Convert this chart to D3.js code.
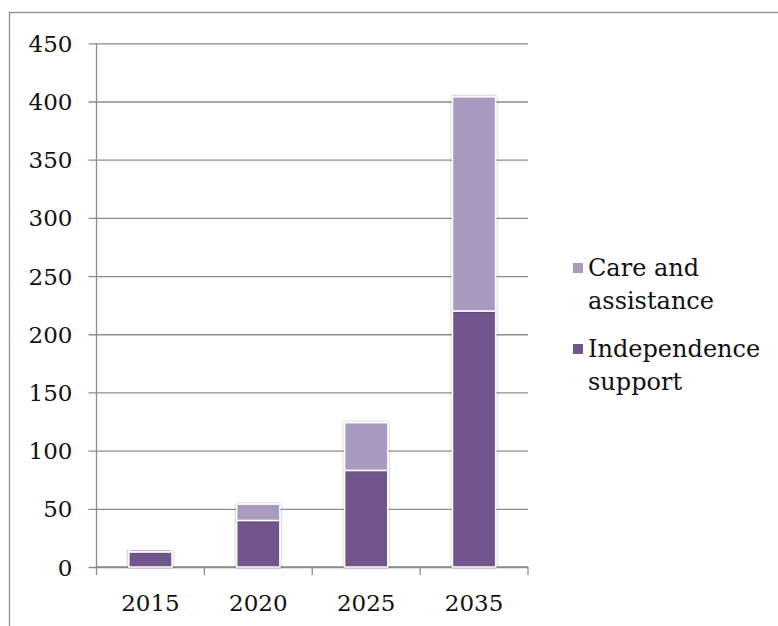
<!DOCTYPE html>
<html>
<head>
<meta charset="utf-8">
<script src="https://cdn.jsdelivr.net/npm/d3@7"></script>
<style>
  html, body { margin: 0; padding: 0; background: #fff; }
  svg { display: block; }
  text { font-family: "DejaVu Serif", "Liberation Serif", serif; fill: #111; }
</style>
</head>
<body>
<svg id="chart" width="778" height="626"></svg>
<script>
// Years on the x axis
const years = ["2015", "2020", "2025", "2035"];
// Stacked series (bottom to top)
const independenceSupport = [13, 40, 83, 220];
const careAndAssistance = [2, 14, 41, 184];
// Y axis ticks
const yTicks = [0, 50, 100, 150, 200, 250, 300, 350, 400, 450];
// Legend entries (top to bottom)
const legendLabels = [["Care and", "assistance"], ["Independence", "support"]];

const colors = { independence: "#6f568c", care: "#a99abf" };
const labelSize = 23;
const legendSize = 24;

const svg = d3.select("#chart");

// drop shadow for bars
const defs = svg.append("defs");
const f = defs.append("filter").attr("id", "shadow")
  .attr("x", "-20%").attr("y", "-10%").attr("width", "140%").attr("height", "120%");
f.append("feGaussianBlur").attr("in", "SourceAlpha").attr("stdDeviation", 1.5).attr("result", "b");
f.append("feComponentTransfer").attr("in", "b").attr("result", "s")
  .append("feFuncA").attr("type", "linear").attr("slope", 0.35);
const m = f.append("feMerge");
m.append("feMergeNode").attr("in", "s");
m.append("feMergeNode").attr("in", "SourceGraphic");

// outer frame
svg.append("rect")
  .attr("x", 9.5).attr("y", 12.5).attr("width", 800).attr("height", 700)
  .attr("fill", "none").attr("stroke", "#8c8c8c").attr("stroke-width", 1.3);

const plotL = 96.5, plotR = 528, plotT = 43.3, plotB = 567;

const x = d3.scaleBand().domain(years).range([plotL, plotR]).paddingInner(0).paddingOuter(0);
const y = d3.scaleLinear().domain([0, 450]).range([plotB, plotT]);

// gridlines + y axis
const yAxis = d3.axisLeft(y).tickValues(yTicks).tickSize(-(plotR - plotL)).tickPadding(24).tickFormat(d3.format("d"));
const gy = svg.append("g").attr("transform", `translate(${plotL},0)`).call(yAxis);
gy.select(".domain").remove();
gy.selectAll(".tick line").attr("stroke", "#8c8c8c").attr("stroke-width", 1.3)
  .attr("x1", -8);
gy.selectAll(".tick text").attr("font-size", labelSize).attr("fill", "#111")
  .attr("font-family", "DejaVu Serif, serif").attr("dy", "0.35em");

// y axis vertical line
svg.append("line").attr("x1", plotL).attr("x2", plotL).attr("y1", plotT).attr("y2", plotB)
  .attr("stroke", "#8c8c8c").attr("stroke-width", 1.3);

// x axis
svg.append("line").attr("x1", plotL).attr("x2", plotR).attr("y1", plotB).attr("y2", plotB)
  .attr("stroke", "#8c8c8c").attr("stroke-width", 1.3);
const bounds = years.map(d => x(d)).concat([x(years[years.length - 1]) + x.bandwidth()]);
svg.append("g").selectAll("line").data(bounds).join("line")
  .attr("x1", d => d).attr("x2", d => d).attr("y1", plotB).attr("y2", plotB + 8)
  .attr("stroke", "#8c8c8c").attr("stroke-width", 1.3);
svg.append("g").selectAll("text").data(years).join("text")
  .attr("x", d => x(d) + x.bandwidth() / 2).attr("y", 611)
  .attr("text-anchor", "middle").attr("font-size", labelSize).text(d => d);

// stacked bars
const rows = years.map((yr, i) => ({ year: yr, independence: independenceSupport[i], care: careAndAssistance[i] }));
const stack = d3.stack().keys(["independence", "care"])(rows);
const barW = x.bandwidth() * 0.4;
svg.append("g").selectAll("g").data(stack).join("g")
  .attr("fill", d => colors[d.key])
  .selectAll("rect").data(d => d).join("rect")
  .attr("x", d => x(d.data.year) + (x.bandwidth() - barW) / 2)
  .attr("y", d => y(d[1]))
  .attr("width", barW)
  .attr("height", d => y(d[0]) - y(d[1]))
  .attr("stroke", "#fff").attr("stroke-width", 1.5)
  .attr("filter", "url(#shadow)");

// legend
const legend = svg.append("g");
const legendKeys = ["care", "independence"];
const legendY = [263, 344];
legendKeys.forEach((k, i) => {
  legend.append("rect").attr("x", 573).attr("y", legendY[i]).attr("width", 10).attr("height", 10)
    .attr("fill", colors[k]);
  const t = legend.append("text").attr("x", 588).attr("y", legendY[i] + 13).attr("font-size", legendSize);
  legendLabels[i].forEach((line, j) => {
    t.append("tspan").attr("x", 588).attr("dy", j === 0 ? 0 : 33).text(line);
  });
});
</script>
</body>
</html>
